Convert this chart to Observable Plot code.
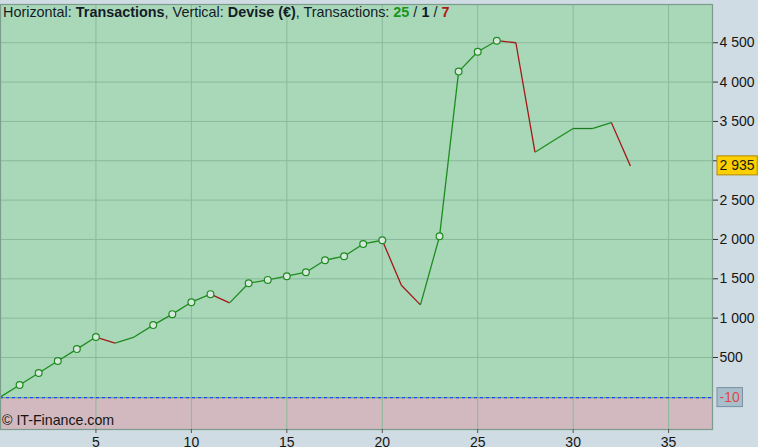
<!DOCTYPE html>
<html><head><meta charset="utf-8">
<script src="https://cdn.jsdelivr.net/npm/d3@7"></script>
<script src="https://cdn.jsdelivr.net/npm/@observablehq/plot@0.6"></script>
<style>
html,body{margin:0;padding:0;background:#cfdce3;}
#wrap{position:relative;width:758px;height:447px;overflow:hidden;font-family:"Liberation Sans",Arial,sans-serif;}
#title{position:absolute;left:3px;top:4px;font-size:14.4px;color:#141c28;white-space:nowrap;}
#title b.w{color:#1a961a;} #title b.n{color:#101830;} #title b.l{color:#b01818;}
#wm{position:absolute;left:2px;top:412px;font-size:14.2px;color:#161616;white-space:nowrap;}
</style></head><body>
<div id="wrap">
<div id="chart"></div>
<div id="title">Horizontal: <b>Transactions</b>, Vertical: <b>Devise (€)</b>, Transactions: <b class="w">25</b> / <b class="n">1</b> / <b class="l">7</b></div>
<div id="wm">© IT-Finance.com</div>
</div>
<script>
// Trade number and cumulative balance (€)
const trades = [0,1,2,3,4,5,6,7,8,9,10,11,12,13,14,15,16,17,18,19,20,21,22,23,24,25,26,27,28,29,30,31,32,33];
const balance = [0,151,303,455,607,760,683,760,912,1051,1203,1305,1194,1444,1486,1533,1584,1736,1787,1943,1990,1419,1169,2040,4133,4386,4526,4500,3109,3260,3410,3410,3486,2935];
const xTicks = [5,10,15,20,25,30,35];
const yTicks = [500,1000,1500,2000,2500,3000,3500,4000,4500];
const baseLevel = -10;
const xDomain = [0, 37.3];
const yDomain = [-415, 4986];

const colors = {win:"#1e8c1e", flat:"#1e7a1e", loss:"#a31818"};
const pts = trades.map((t,i)=>({x:t, y:balance[i]}));
const segs = [];
for (let i=1;i<pts.length;i++){
  const a=pts[i-1], b=pts[i];
  segs.push({x1:a.x,y1:a.y,x2:b.x,y2:b.y,kind:b.y>a.y?"win":b.y<a.y?"loss":"flat"});
}
const highs = [];
let runMax = balance[0];
pts.forEach((p,i)=>{ if(i>0 && p.y>runMax){ highs.push(p); } runMax=Math.max(runMax,p.y); });
const zones = [
  {y1:baseLevel, y2:yDomain[1], fill:"#a9d8b9"},
  {y1:yDomain[0], y2:baseLevel, fill:"#d2b9bf"}
];
const fmt = d => String(d).replace(/\B(?=(\d{3})+(?!\d))/g, " ");
const last = pts[pts.length-1];
// tick labels hidden behind the last-value badge
const labelTicks = yTicks.filter(d => Math.abs(d - last.y) > 150);
const labels = [
  {y:last.y, text:fmt(last.y), fill:"#1a1a1a", box:"#fcd000", boxStroke:"#b08a00"},
  {y:baseLevel, text:String(baseLevel), fill:"#e04646", box:"#a8bfcb", boxStroke:"#7890a0"}
];

const plot = Plot.plot({
  width:758, height:447,
  marginLeft:0, marginRight:46, marginTop:4, marginBottom:18,
  x:{domain:xDomain},
  y:{domain:yDomain},
  style:{background:"transparent", fontFamily:"Liberation Sans, Arial, sans-serif", fontSize:"14px", color:"#151515"},
  marks:[
    Plot.rect(zones,{x1:xDomain[0], x2:xDomain[1], y1:"y1", y2:"y2", fill:"fill"}),
    Plot.gridX(xTicks,{stroke:"#88b99a", strokeOpacity:1}),
    Plot.gridY(yTicks,{stroke:"#88b99a", strokeOpacity:1}),
    Plot.ruleY([baseLevel],{stroke:"#5cb85c", strokeWidth:1.1}),
    Plot.ruleY([baseLevel],{stroke:"#2444ff", strokeWidth:1.1, strokeDasharray:"3,3"}),
    Plot.link(segs,{x1:"x1",y1:"y1",x2:"x2",y2:"y2", stroke:d=>colors[d.kind], strokeWidth:1.3}),
    Plot.dot(highs,{x:"x",y:"y", r:3.4, fill:"#d6e7de", stroke:"#1e8c1e", strokeWidth:1.2}),
    Plot.frame({stroke:"#7c9c8c", strokeWidth:1.2}),
    Plot.axisY(yTicks,{anchor:"right", tickSize:5, tickPadding:2, text:null, stroke:"#333"}),
    Plot.axisY(labelTicks,{anchor:"right", tickSize:0, tickPadding:7, tickFormat:fmt, fontSize:14, fill:"#151515"}),
    Plot.axisX(xTicks,{anchor:"bottom", tickSize:4, tickPadding:4, fontSize:14, stroke:"#555", fill:"#151515"}),
    Plot.text(labels,{x:xDomain[1], y:"y", text:"text", fill:"fill", dx:7, textAnchor:"start", fontSize:14, className:"vlabel"})
  ]
});
document.getElementById("chart").appendChild(plot);
// boxes behind value labels
const texts = plot.querySelectorAll("g.vlabel text");
texts.forEach((t,i)=>{
  const bb = t.getBBox();
  const r = document.createElementNS("http://www.w3.org/2000/svg","rect");
  r.setAttribute("x", bb.x-2.5); r.setAttribute("y", bb.y-1.5);
  r.setAttribute("width", bb.width+5); r.setAttribute("height", bb.height+3);
  r.setAttribute("fill", labels[i].box); r.setAttribute("stroke", labels[i].boxStroke);
  const tr = t.getAttribute("transform");
  if (tr) r.setAttribute("transform", tr);
  t.parentNode.insertBefore(r, t);
});
</script>
</body></html>
